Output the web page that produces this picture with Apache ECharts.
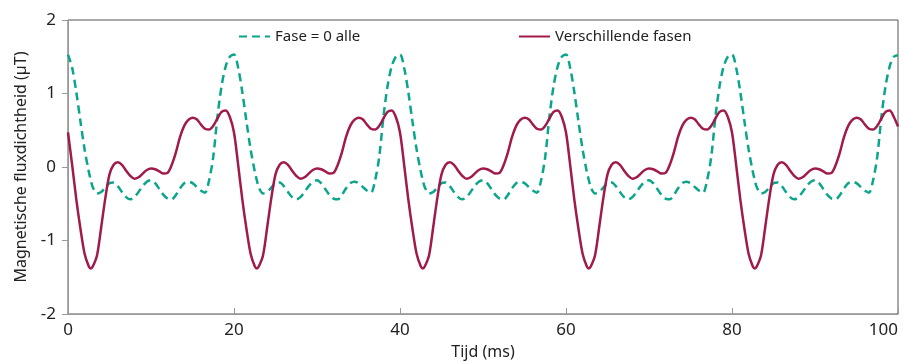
<!DOCTYPE html>
<html>
<head>
<meta charset="utf-8">
<script src="https://cdn.jsdelivr.net/npm/echarts@6/dist/echarts.min.js"></script>
<style>
  html, body { margin: 0; padding: 0; background: #ffffff; }
  #chart { width: 905px; height: 361px; }
</style>
</head>
<body>
<div id="chart"></div>
<script>
// Time axis (ms): 0.5 ms steps over five 20 ms cycles, with an extra sample
// in each cycle at the deep minimum of the phase-shifted waveform
const timeMs = [
  0,0.5,1,1.5,2,2.5,2.75,3,3.5,4,4.5,5,5.5,6,6.5,7,7.5,8,8.5,9,9.5,
  10,10.5,11,11.5,12,12.5,13,13.5,14,14.5,15,15.5,16,16.5,17,17.5,18,18.5,19,19.5,
  20,20.5,21,21.5,22,22.5,22.75,23,23.5,24,24.5,25,25.5,26,26.5,27,27.5,28,28.5,29,29.5,
  30,30.5,31,31.5,32,32.5,33,33.5,34,34.5,35,35.5,36,36.5,37,37.5,38,38.5,39,39.5,
  40,40.5,41,41.5,42,42.5,42.75,43,43.5,44,44.5,45,45.5,46,46.5,47,47.5,48,48.5,49,49.5,
  50,50.5,51,51.5,52,52.5,53,53.5,54,54.5,55,55.5,56,56.5,57,57.5,58,58.5,59,59.5,
  60,60.5,61,61.5,62,62.5,62.75,63,63.5,64,64.5,65,65.5,66,66.5,67,67.5,68,68.5,69,69.5,
  70,70.5,71,71.5,72,72.5,73,73.5,74,74.5,75,75.5,76,76.5,77,77.5,78,78.5,79,79.5,
  80,80.5,81,81.5,82,82.5,82.75,83,83.5,84,84.5,85,85.5,86,86.5,87,87.5,88,88.5,89,89.5,
  90,90.5,91,91.5,92,92.5,93,93.5,94,94.5,95,95.5,96,96.5,97,97.5,98,98.5,99,99.5,
  100
];

// Flux density (µT) with all harmonics in phase
const faseNul = [
  1.53,1.35,1.02,0.62,0.24,-0.06,-0.18,-0.28,-0.36,-0.34,-0.28,-0.22,-0.21,-0.26,-0.34,-0.41,-0.44,-0.41,-0.34,-0.26,-0.2,
  -0.18,-0.22,-0.3,-0.38,-0.43,-0.44,-0.38,-0.29,-0.22,-0.2,-0.22,-0.27,-0.32,-0.35,-0.18,0.14,0.68,1.1,1.37,1.5,
  1.53,1.35,1.02,0.62,0.24,-0.06,-0.18,-0.28,-0.36,-0.34,-0.28,-0.22,-0.21,-0.26,-0.34,-0.41,-0.44,-0.41,-0.34,-0.26,-0.2,
  -0.18,-0.22,-0.3,-0.38,-0.43,-0.44,-0.38,-0.29,-0.22,-0.2,-0.22,-0.27,-0.32,-0.35,-0.18,0.14,0.68,1.1,1.37,1.5,
  1.53,1.35,1.02,0.62,0.24,-0.06,-0.18,-0.28,-0.36,-0.34,-0.28,-0.22,-0.21,-0.26,-0.34,-0.41,-0.44,-0.41,-0.34,-0.26,-0.2,
  -0.18,-0.22,-0.3,-0.38,-0.43,-0.44,-0.38,-0.29,-0.22,-0.2,-0.22,-0.27,-0.32,-0.35,-0.18,0.14,0.68,1.1,1.37,1.5,
  1.53,1.35,1.02,0.62,0.24,-0.06,-0.18,-0.28,-0.36,-0.34,-0.28,-0.22,-0.21,-0.26,-0.34,-0.41,-0.44,-0.41,-0.34,-0.26,-0.2,
  -0.18,-0.22,-0.3,-0.38,-0.43,-0.44,-0.38,-0.29,-0.22,-0.2,-0.22,-0.27,-0.32,-0.35,-0.18,0.14,0.68,1.1,1.37,1.5,
  1.53,1.35,1.02,0.62,0.24,-0.06,-0.18,-0.28,-0.36,-0.34,-0.28,-0.22,-0.21,-0.26,-0.34,-0.41,-0.44,-0.41,-0.34,-0.26,-0.2,
  -0.18,-0.22,-0.3,-0.38,-0.43,-0.44,-0.38,-0.29,-0.22,-0.2,-0.22,-0.27,-0.32,-0.35,-0.18,0.14,0.68,1.1,1.37,1.5,
  1.52
];

// Flux density (µT) with shifted harmonic phases
const verschillendeFasen = [
  0.47,0.03,-0.44,-0.84,-1.18,-1.35,-1.38,-1.35,-1.2,-0.82,-0.42,-0.1,0.03,0.065,0.03,-0.05,-0.12,-0.16,-0.14,-0.09,-0.04,
  -0.02,-0.03,-0.06,-0.09,-0.08,0.03,0.2,0.41,0.56,0.64,0.67,0.65,0.58,0.52,0.51,0.56,0.66,0.75,0.77,0.68,
  0.47,0.03,-0.44,-0.84,-1.18,-1.35,-1.38,-1.35,-1.2,-0.82,-0.42,-0.1,0.03,0.065,0.03,-0.05,-0.12,-0.16,-0.14,-0.09,-0.04,
  -0.02,-0.03,-0.06,-0.09,-0.08,0.03,0.2,0.41,0.56,0.64,0.67,0.65,0.58,0.52,0.51,0.56,0.66,0.75,0.77,0.68,
  0.47,0.03,-0.44,-0.84,-1.18,-1.35,-1.38,-1.35,-1.2,-0.82,-0.42,-0.1,0.03,0.065,0.03,-0.05,-0.12,-0.16,-0.14,-0.09,-0.04,
  -0.02,-0.03,-0.06,-0.09,-0.08,0.03,0.2,0.41,0.56,0.64,0.67,0.65,0.58,0.52,0.51,0.56,0.66,0.75,0.77,0.68,
  0.47,0.03,-0.44,-0.84,-1.18,-1.35,-1.38,-1.35,-1.2,-0.82,-0.42,-0.1,0.03,0.065,0.03,-0.05,-0.12,-0.16,-0.14,-0.09,-0.04,
  -0.02,-0.03,-0.06,-0.09,-0.08,0.03,0.2,0.41,0.56,0.64,0.67,0.65,0.58,0.52,0.51,0.56,0.66,0.75,0.77,0.68,
  0.47,0.03,-0.44,-0.84,-1.18,-1.35,-1.38,-1.35,-1.2,-0.82,-0.42,-0.1,0.03,0.065,0.03,-0.05,-0.12,-0.16,-0.14,-0.09,-0.04,
  -0.02,-0.03,-0.06,-0.09,-0.08,0.03,0.2,0.41,0.56,0.64,0.67,0.65,0.58,0.52,0.51,0.56,0.66,0.75,0.77,0.68,
  0.55
];

const seriesNames = ['Fase = 0 alle', 'Verschillende fasen'];
const xTicks = [0, 20, 40, 60, 80, 100];
const yTicks = [-2, -1, 0, 1, 2];

const FONT = 'Noto Sans';
const TEXT = '#222222';
const TEAL = '#0aa58a';
const WINE = '#a01a4b';

const pairs = (ys) => timeMs.map((t, i) => [t, ys[i]]);

// Legend entries show only the line sample (no marker)
const legendBase = {
  itemWidth: 31, itemHeight: 14, itemGap: 8,
  itemStyle: { opacity: 0 },
  textStyle: { fontFamily: FONT, fontSize: 15, color: TEXT }
};

const chart = echarts.init(document.getElementById('chart'), null, { renderer: 'canvas' });

chart.setOption({
  animation: false,
  backgroundColor: '#ffffff',
  textStyle: { fontFamily: FONT, color: TEXT },
  grid: {
    left: 68, right: 7, top: 20, bottom: 47,
    outerBoundsMode: 'none',
    containLabel: false,
    show: true, borderColor: '#555555', borderWidth: 1
  },
  legend: [
    Object.assign({ data: [seriesNames[0]], left: 233, top: 24 }, legendBase),
    Object.assign({ data: [seriesNames[1]], left: 513, top: 24 }, legendBase)
  ],
  xAxis: {
    type: 'value',
    min: xTicks[0], max: xTicks[xTicks.length - 1], interval: 20,
    name: 'Tijd (ms)', nameLocation: 'middle', nameGap: 30,
    nameTextStyle: { fontFamily: FONT, fontSize: 16, color: TEXT },
    axisLine: { show: true, onZero: false, lineStyle: { color: '#999999', width: 1 } },
    axisTick: { show: true, inside: true, length: 6, lineStyle: { color: '#999999' } },
    axisLabel: { margin: 8, fontFamily: FONT, fontSize: 17, color: TEXT, alignMaxLabel: 'right' },
    splitLine: { show: false }
  },
  yAxis: {
    type: 'value',
    min: yTicks[0], max: yTicks[yTicks.length - 1], interval: 1,
    name: 'Magnetische fluxdichtheid (µT)', nameLocation: 'middle', nameGap: 38,
    nameTextStyle: { fontFamily: FONT, fontSize: 16, color: TEXT },
    axisLine: { show: true, onZero: false, lineStyle: { color: '#999999', width: 1 } },
    axisTick: { show: true, inside: false, length: 6, lineStyle: { color: '#999999' } },
    axisLabel: { margin: 12, fontFamily: FONT, fontSize: 17, color: TEXT },
    splitLine: { show: false }
  },
  series: [
    {
      name: seriesNames[0],
      type: 'line',
      data: pairs(faseNul),
      smooth: 0.3,
      symbol: 'none',
      lineStyle: { color: TEAL, width: 2.5, type: [8, 5] },
      itemStyle: { color: TEAL },
      z: 2
    },
    {
      name: seriesNames[1],
      type: 'line',
      data: pairs(verschillendeFasen),
      smooth: 0.3,
      symbol: 'none',
      lineStyle: { color: WINE, width: 2.5 },
      itemStyle: { color: WINE },
      z: 3
    }
  ]
});
</script>
</body>
</html>
